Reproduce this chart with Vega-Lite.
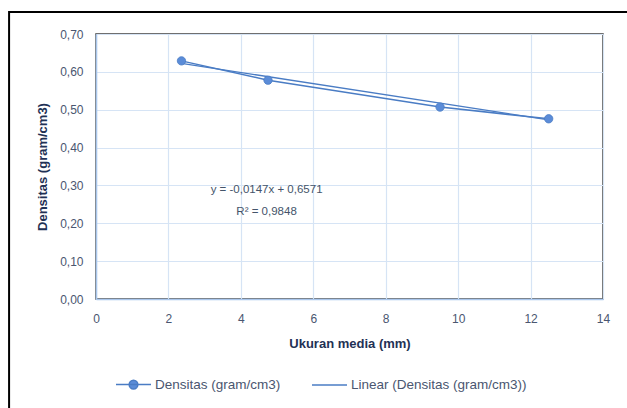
{
  "$schema": "https://vega.github.io/schema/vega-lite/v6.json",
  "width": 507,
  "height": 265,
  "autosize": {"type": "none"},
  "padding": {"left": 96, "top": 34, "right": 24, "bottom": 109},
  "background": "white",
  "config": {
    "font": "Liberation Sans Narrow, Liberation Sans, sans-serif",
    "view": {"stroke": "#404040", "strokeWidth": 1.5},
    "axis": {
      "gridColor": "#D6E4F5",
      "gridWidth": 1.2,
      "domainColor": "#A9C6EC",
      "domainWidth": 1.5,
      "ticks": false,
      "labelColor": "#4A5670",
      "labelFontSize": 12,
      "labelOverlap": false,
      "labelFlush": false,
      "titleColor": "#1F3155",
      "titleFontSize": 13,
      "titleFontWeight": "bold",
      "zindex": 0
    }
  },
  "datasets": {
    "obs": [
      {"ukuran": 2.36, "densitas": 0.629, "series": "Densitas (gram/cm3)"},
      {"ukuran": 4.75, "densitas": 0.578, "series": "Densitas (gram/cm3)"},
      {"ukuran": 9.5, "densitas": 0.507, "series": "Densitas (gram/cm3)"},
      {"ukuran": 12.5, "densitas": 0.476, "series": "Densitas (gram/cm3)"}
    ],
    "trend": [
      {"ukuran": 2.36, "densitas": 0.6224, "series": "Linear (Densitas (gram/cm3))"},
      {"ukuran": 12.5, "densitas": 0.4734, "series": "Linear (Densitas (gram/cm3))"}
    ],
    "notes": [
      {"ukuran": 4.71, "densitas": 0.288, "text": "y = -0,0147x + 0,6571"},
      {"ukuran": 4.71, "densitas": 0.23, "text": "R² = 0,9848"}
    ],
    "frame": [
      {"ukuran": -2.4, "ukuran2": 15.5, "densitas": 0.758, "densitas2": -0.35}
    ]
  },
  "layer": [
    {
      "data": {"name": "trend"},
      "mark": {"type": "line", "strokeWidth": 1.3},
      "encoding": {
        "x": {"field": "ukuran", "type": "quantitative",
          "scale": {"domain": [0, 14], "nice": false, "zero": false},
          "axis": {"values": [0, 2, 4, 6, 8, 10, 12, 14], "tickCount": 20, "format": "d", "title": "Ukuran media (mm)", "labelPadding": 14, "titlePadding": 13}},
        "y": {"field": "densitas", "type": "quantitative",
          "scale": {"domain": [0, 0.7], "nice": false, "zero": false},
          "axis": {"values": [0, 0.1, 0.2, 0.3, 0.4, 0.5, 0.6, 0.7], "tickCount": 20, "title": "Densitas (gram/cm3)", "labelPadding": 13, "titlePadding": 10,
            "labelExpr": "replace(format(datum.value, '.2f'), '.', ',')"}},
        "color": {"field": "series", "type": "nominal",
          "scale": {"domain": ["Densitas (gram/cm3)", "Linear (Densitas (gram/cm3))"], "range": ["#4A7CC4", "#4A7CC4"]},
          "legend": {
            "title": null,
            "orient": "none",
            "direction": "horizontal",
            "legendX": 19,
            "legendY": 332,
            "labelFontSize": 13.5,
            "labelLimit": 400,
            "labelColor": "#4A5670",
            "labelOffset": 3,
            "columnPadding": 28,
            "symbolSize": 1225,
            "symbolStrokeWidth": 1.5,
            "encode": {
              "symbols": {
                "update": {
                  "shape": {"signal": "datum.value === 'Densitas (gram/cm3)' ? 'M-1,0H1M0.25,0A0.25,0.25,0,1,1,-0.25,0A0.25,0.25,0,1,1,0.25,0Z' : 'M-1,0H1'"},
                  "fill": {"value": "#5B8CD8"},
                  "stroke": {"value": "#4A7CC4"}
                }
              }
            }
          }}
      }
    },
    {
      "data": {"name": "obs"},
      "mark": {"type": "line", "strokeWidth": 1.5},
      "encoding": {
        "x": {"field": "ukuran", "type": "quantitative"},
        "y": {"field": "densitas", "type": "quantitative"},
        "color": {"field": "series", "type": "nominal"}
      }
    },
    {
      "data": {"name": "obs"},
      "mark": {"type": "point", "filled": true, "size": 70, "opacity": 1, "color": "#5B8CD8", "stroke": "#4A7CC4", "strokeWidth": 0.8},
      "encoding": {
        "x": {"field": "ukuran", "type": "quantitative"},
        "y": {"field": "densitas", "type": "quantitative"}
      }
    },
    {
      "data": {"name": "notes"},
      "mark": {"type": "text", "fontSize": 11.5, "color": "#44546A", "align": "center", "baseline": "middle"},
      "encoding": {
        "x": {"field": "ukuran", "type": "quantitative"},
        "y": {"field": "densitas", "type": "quantitative"},
        "text": {"field": "text"}
      }
    },
    {
      "data": {"name": "frame"},
      "mark": {"type": "rect", "fill": null, "stroke": "#000000", "strokeWidth": 2, "clip": false},
      "encoding": {
        "x": {"field": "ukuran", "type": "quantitative",
          "axis": {"values": [0, 2, 4, 6, 8, 10, 12, 14], "tickCount": 20, "format": "d", "title": "Ukuran media (mm)", "labelPadding": 14, "titlePadding": 13}},
        "x2": {"field": "ukuran2"},
        "y": {"field": "densitas", "type": "quantitative",
          "axis": {"values": [0, 0.1, 0.2, 0.3, 0.4, 0.5, 0.6, 0.7], "tickCount": 20, "title": "Densitas (gram/cm3)", "labelPadding": 13, "titlePadding": 10,
            "labelExpr": "replace(format(datum.value, '.2f'), '.', ',')"}},
        "y2": {"field": "densitas2"}
      }
    }
  ]
}
